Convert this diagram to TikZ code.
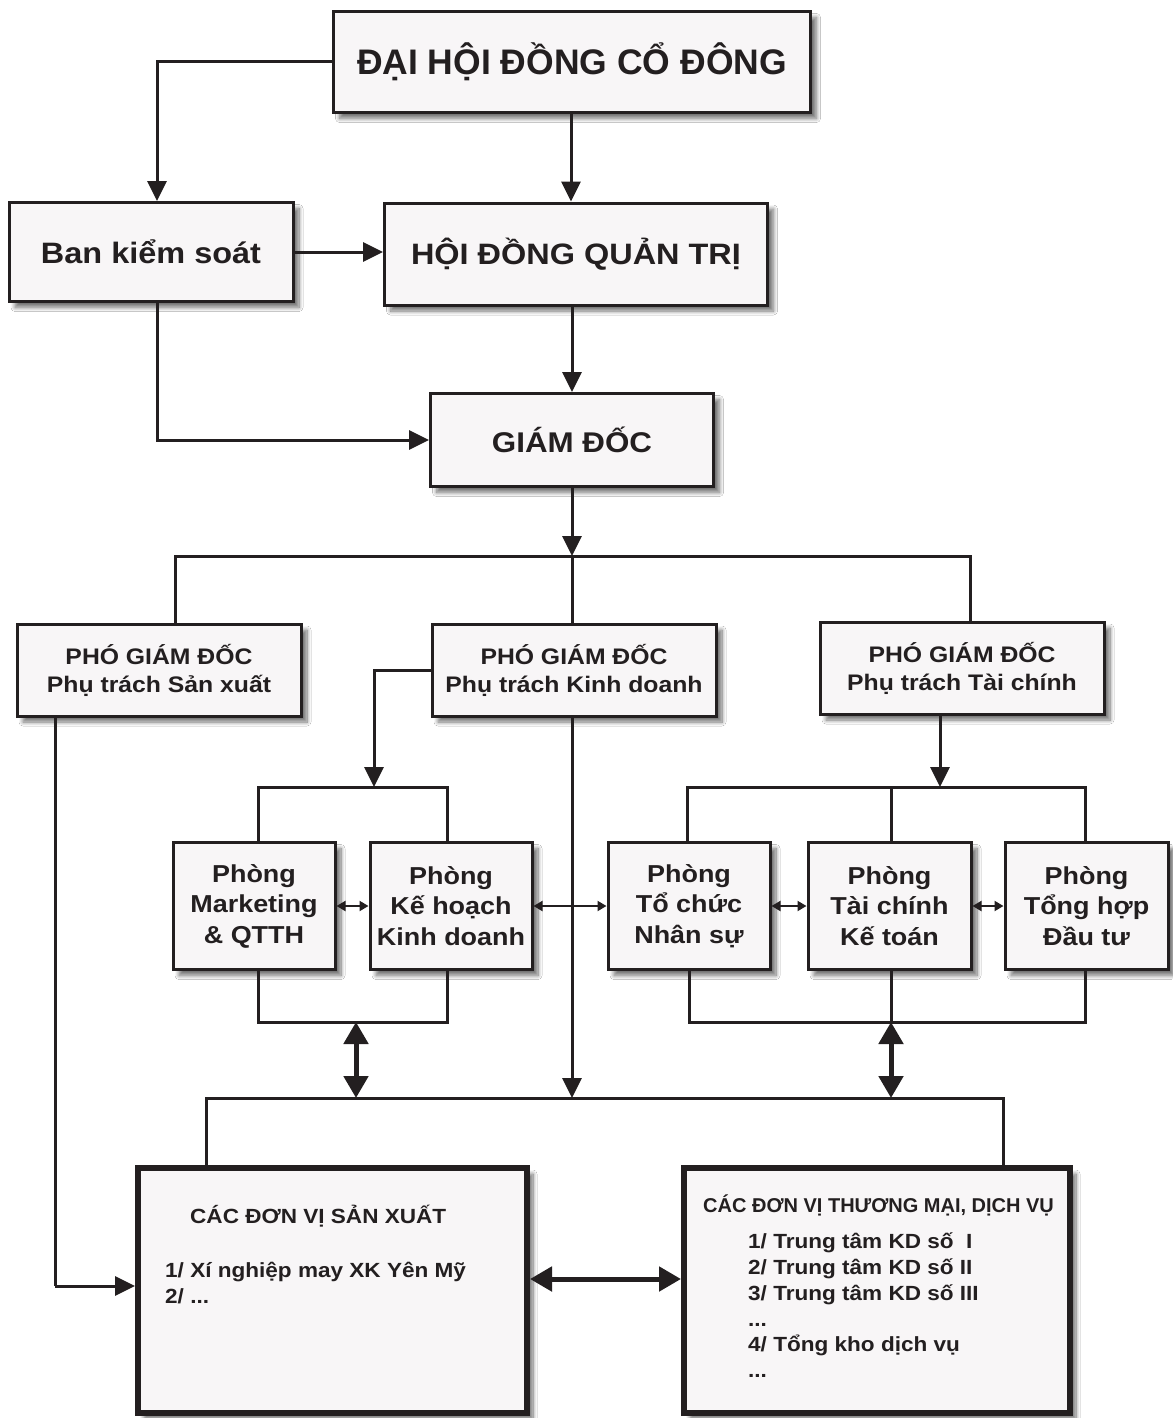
\documentclass[tikz,border=0pt]{standalone}
\usepackage{fontspec}
\setmainfont{Liberation Sans}[FakeStretch=1.1]
\newfontfamily\plainsans{Liberation Sans}
\usetikzlibrary{arrows.meta,shadows.blur}
\definecolor{ink}{HTML}{231F20}
\definecolor{boxfill}{HTML}{F8F6F7}
\tikzset{
 box/.style={draw=ink, line width=3pt, fill=boxfill, align=center, text=ink, inner sep=0pt,
   blur shadow={shadow xshift=6pt, shadow yshift=-6pt, shadow blur steps=10, shadow blur radius=4pt, shadow opacity=55}},
 bigbox/.style={box, line width=6pt},
 ftop/.style={font=\plainsans\bfseries\fontsize{35.5}{40}\selectfont},
 fmid/.style={font=\bfseries\fontsize{29.5}{34}\selectfont},
 fgd/.style={font=\bfseries\fontsize{28.5}{34}\selectfont},
 fpgd/.style={font=\bfseries\fontsize{22.5}{28}\selectfont},
 fpho/.style={font=\bfseries\fontsize{24.5}{30.5}\selectfont},
 fsmall/.style={font=\bfseries\fontsize{20.5}{25.7}\selectfont, text=ink, inner sep=0pt, align=left},
 fsmallplain/.style={font=\plainsans\bfseries\fontsize{20}{25.7}\selectfont, text=ink, inner sep=0pt, align=left},
 wire/.style={draw=ink, line width=3pt},
 arr/.style={wire, -{Triangle[length=20pt,width=19pt]}},
 sarr/.style={draw=ink, line width=2pt, {Triangle[length=9pt,width=10pt]}-{Triangle[length=9pt,width=10pt]}},
 darr/.style={draw=ink, line width=5pt, {Triangle[length=22pt,width=24pt]}-{Triangle[length=22pt,width=24pt]}},
}
\begin{document}
\begin{tikzpicture}[x=1pt,y=-1pt]
\fill[white] (0,0) rectangle (1172,1418);
\useasboundingbox (0,0) rectangle (1172,1418);

% boxes
\node[box, ftop, minimum width=477pt, minimum height=101pt] (dh) at (572,62) {ĐẠI HỘI ĐỒNG CỔ ĐÔNG};
\node[box, fmid, minimum width=284pt, minimum height=99pt] (bks) at (151,252) {Ban kiểm soát};
\node[box, fmid, minimum width=383pt, minimum height=102pt] (hd) at (576,254) {HỘI ĐỒNG QUẢN TRỊ};
\node[box, fgd, minimum width=283pt, minimum height=93pt] (gd) at (572,440) {GIÁM ĐỐC};

\node[box, fpgd, minimum width=284pt, minimum height=92pt] (psx) at (159,670) {PHÓ GIÁM ĐỐC\\Phụ trách Sản xuất};
\node[box, fpgd, minimum width=284pt, minimum height=92pt] (pkd) at (574,670) {PHÓ GIÁM ĐỐC\\Phụ trách Kinh doanh};
\node[box, fpgd, minimum width=284pt, minimum height=92pt] (ptc) at (962,668) {PHÓ GIÁM ĐỐC\\Phụ trách Tài chính};

\node[box, fpho, minimum width=162pt, minimum height=127pt] (mk) at (254,906) {Phòng\\Marketing\\\& QTTH};
\node[box, fpho, minimum width=162pt, minimum height=127pt] (kh) at (451,906) {Phòng\\Kế hoạch\\Kinh doanh};
\node[box, fpho, minimum width=162pt, minimum height=127pt] (ns) at (689,906) {Phòng\\Tổ chức\\Nhân sự};
\node[box, fpho, minimum width=163pt, minimum height=127pt] (kt) at (889.5,906) {Phòng\\Tài chính\\Kế toán};
\node[box, fpho, minimum width=163pt, minimum height=127pt] (th) at (1086.5,906) {Phòng\\Tổng hợp\\Đầu tư};

\node[bigbox, minimum width=389pt, minimum height=245pt] (sx) at (332.5,1290.5) {};
\node[bigbox, minimum width=386pt, minimum height=245pt] (tm) at (877,1290.5) {};

% texts in bottom boxes
\node[fsmall, anchor=west] (sxt) at (190,1216) {CÁC ĐƠN VỊ SẢN XUẤT};
\node[fsmall, anchor=north west] (sxl) at (165,1262) {1/ Xí nghiệp may XK Yên Mỹ\\2/ ...};
\node[fsmallplain, anchor=west] (tmt) at (703,1205) {CÁC ĐƠN VỊ THƯƠNG MẠI, DỊCH VỤ};
\node[fsmall, anchor=north west] (tml) at (748,1233) {1/ Trung tâm KD số~~I\\2/ Trung tâm KD số II\\3/ Trung tâm KD số III\\...\\4/ Tổng kho dịch vụ\\...};

% coordinates for buses
\coordinate (j1) at (572,556);
\coordinate (b1l) at (175,556);
\coordinate (b1r) at (970,556);
\coordinate (k1) at (374,787);
\coordinate (k1l) at (258,787);
\coordinate (k1r) at (447,787);
\coordinate (k2) at (940,787);
\coordinate (k2l) at (687,787);
\coordinate (k2m) at (891,787);
\coordinate (k2r) at (1085,787);
\coordinate (m1l) at (258,1022);
\coordinate (m1) at (356,1022);
\coordinate (m1r) at (447,1022);
\coordinate (m2l) at (689,1022);
\coordinate (m2) at (891,1022);
\coordinate (m2r) at (1085,1022);
\coordinate (j3) at (572,1098);
\coordinate (b3l) at (206,1098);
\coordinate (b3r) at (1003,1098);
\coordinate (n1) at (356,1098);
\coordinate (n2) at (891,1098);
\coordinate (sxc) at (55,1286);

% top connectors
\draw[arr] (dh.west) -| ([xshift=6pt]bks.north);
\draw[arr] ([xshift=-1pt]dh.south) -- ([xshift=-1pt]dh.south |- hd.north);
\draw[arr] (bks.east) -- (bks.east -| hd.west);
\draw[arr] (gd.north |- hd.south) -- (gd.north);
\draw[arr] ([xshift=6pt]bks.south) |- (gd.west);

% GD to vice directors
\draw[arr] (gd.south) -- (j1);
\draw[wire] (b1l |- psx.north) -- (b1l) -- (b1r) -- (b1r |- ptc.north);
\draw[wire] (j1) -- (j1 |- pkd.north);

% PGD KD to left departments
\draw[arr] (pkd.west) -| (k1);
\draw[wire] (k1l |- mk.north) -- (k1l) -- (k1r) -- (k1r |- kh.north);
% PGD TC to right departments
\draw[arr] (ptc.south -| k2) -- (k2);
\draw[wire] (k2l |- ns.north) -- (k2l) -- (k2r) -- (k2r |- th.north);
\draw[wire] (k2m) -- (k2m |- kt.north);

% horizontal links between departments
\draw[sarr] (mk.east) -- (kh.west);
\draw[sarr] (kh.east) -- (ns.west);
\draw[sarr] (ns.east) -- (kt.west);
\draw[sarr] (kt.east) -- (th.west);

% lower brackets
\draw[wire] (m1l |- mk.south) -- (m1l) -- (m1r) -- (m1r |- kh.south);
\draw[wire] (m2l |- ns.south) -- (m2l) -- (m2r) -- (m2r |- th.south);
\draw[wire] (m2 |- kt.south) -- (m2);
\draw[darr] (m1) -- (n1);
\draw[darr] (m2) -- (n2);

% PGD KD down to bottom bus
\draw[arr] (pkd.south -| j3) -- (j3);
\draw[wire] (b3l |- sx.north) -- (b3l) -- (b3r) -- (b3r |- tm.north);

% bottom links
\draw[darr] (sx.east |- 0,1279) -- (tm.west |- 0,1279);
\draw[wire] (psx.south -| sxc) -- (sxc);
\draw[arr] (sxc) -- (sxc -| sx.west);
\end{tikzpicture}
\end{document}
